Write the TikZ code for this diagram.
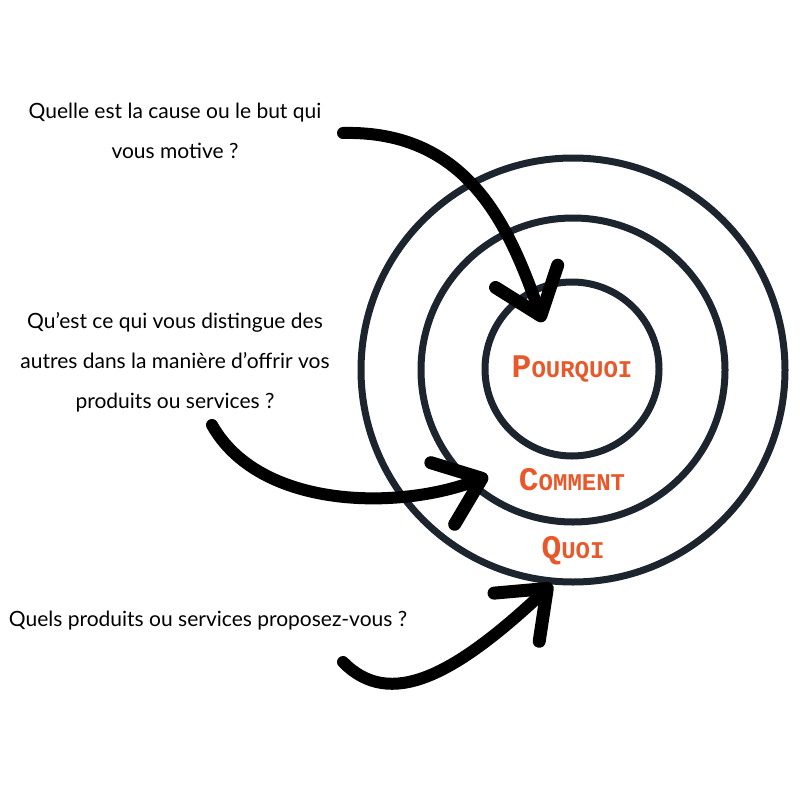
\documentclass[tikz,border=0pt]{standalone}
\usepackage{fontspec}
\setmainfont{Lato}
\newfontfamily\typefont{Liberation Mono}
\usetikzlibrary{arrows.meta, positioning}
\definecolor{ringblue}{RGB}{28,36,46}
\definecolor{whyorange}{RGB}{233,88,42}
\newcommand{\ringtitle}[2]{{\fontsize{33}{33}\selectfont #1}{\fontsize{24}{24}\selectfont #2}}

\begin{document}
\begin{tikzpicture}[x=1pt, y=-1pt,
    ring/.style={draw=ringblue, fill=white, line width=7pt, circle, inner sep=0pt},
    question/.style={align=center, font=\fontsize{21}{40}\selectfont},
    title/.style={text=whyorange, font=\typefont\bfseries},
    bigarrow/.style={line width=12pt, line cap=round, -{Straight Barb[length=42pt, width=66pt, line width=13pt, round]}}]
        \useasboundingbox (0,0) rectangle (800,800);

        \node[ring, minimum size=424pt] (what) at (573,370) {};
        \node[ring, minimum size=304pt] (how) at (573,370) {};
        \node[ring, minimum size=174pt] (why) at (572,369) {};

        \node[title] (whylabel) at (why.center) {\ringtitle{P}{OURQUOI}};
        \node[title] (howlabel) at (572,480) {\ringtitle{C}{OMMENT}};
        \node[title] (whatlabel) at (573,551) {\ringtitle{Q}{UOI}};

        \node[question] (q1) at (175,131) {Quelle est la cause ou le but qui\\vous motive ?};
        \node[question] (q2) at (175,362) {Qu’est ce qui vous distingue des\\autres dans la manière d’offrir vos\\produits ou services ?};
        \node[question] (q3) at (208,621) {Quels produits ou services proposez-vous ?};

        \coordinate (s1) at (343,133);
        \coordinate (t1) at (543,322);
        \coordinate (s2) at (212,425);
        \coordinate (t2) at (488,476);
        \coordinate (s3) at (343,662);
        \coordinate (t3) at (552,584);

        \draw[bigarrow] (s1) .. controls (470,130) and (510,230) .. (t1);
        \draw[bigarrow] (s2) .. controls (260,510) and (400,510) .. (t2);
        \draw[bigarrow] (s3) .. controls (390,710) and (455,675) .. (t3);
    \end{tikzpicture}
\end{document}
